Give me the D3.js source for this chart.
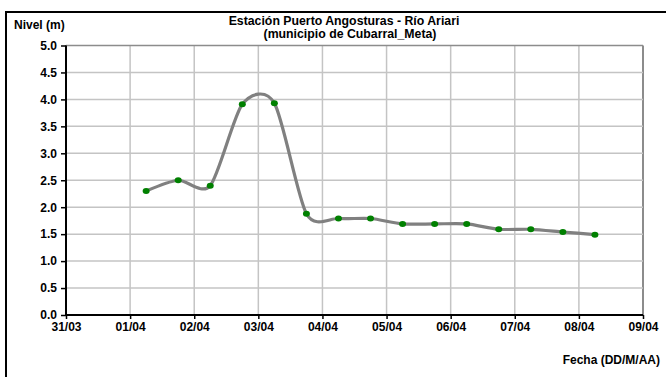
<!DOCTYPE html>
<html><head><meta charset="utf-8">
<script src="https://cdn.jsdelivr.net/npm/d3@7"></script>
<style>body{margin:0;background:#fff}svg{display:block}text{font-family:"Liberation Sans",Arial,sans-serif;font-weight:bold;fill:#000}</style>
</head><body><svg id="c" width="666" height="377"></svg>
<script>
const days = [1.25,1.75,2.25,2.75,3.25,3.75,4.25,4.75,5.25,5.75,6.25,6.75,7.25,7.75,8.25];
const nivel = [2.3,2.5,2.4,3.91,3.93,1.88,1.79,1.79,1.69,1.69,1.69,1.59,1.59,1.54,1.49];
const xTickLabels = ["31/03","01/04","02/04","03/04","04/04","05/04","06/04","07/04","08/04","09/04"];
const yTicks = [0,0.5,1,1.5,2,2.5,3,3.5,4,4.5,5];
const titleLines = ["Estación Puerto Angosturas - Río Ariari","(municipio de Cubarral_Meta)"];

const svg = d3.select("#c");
const L=66,R=643,T=45.5,B=315;
const x = d3.scaleLinear().domain([0,9]).range([L,R]);
const y = d3.scaleLinear().domain([0,5]).range([B,T]);

// outer frame
svg.append("path").attr("d",`M6,${700} V12 H${700}`).attr("fill","none").attr("stroke","#000").attr("stroke-width",2);

// grid
const g = svg.append("g");
g.selectAll(".vg").data(d3.range(1,10)).join("line")
 .attr("x1",d=>x(d)).attr("x2",d=>x(d)).attr("y1",T).attr("y2",B)
 .attr("stroke",d=>d===9?"#8c8c8c":"#c4c4c4").attr("stroke-width",d=>d===9?2:1.5);
g.selectAll(".hg").data(yTicks.filter(d=>d>0)).join("line")
 .attr("x1",L).attr("x2",R).attr("y1",d=>y(d)).attr("y2",d=>y(d))
 .attr("stroke",d=>d===5?"#8c8c8c":"#c4c4c4").attr("stroke-width",1.5);

// axes
const ya = svg.append("g").attr("transform",`translate(${L},0)`)
 .call(d3.axisLeft(y).tickValues(yTicks).tickFormat(d3.format(".1f")).tickSize(5).tickPadding(4));
const xa = svg.append("g").attr("transform",`translate(0,${B})`)
 .call(d3.axisBottom(x).tickValues(d3.range(0,10)).tickFormat(i=>xTickLabels[i]).tickSize(4).tickPadding(3));
[ya,xa].forEach(a=>{a.select(".domain").attr("stroke","#000").attr("stroke-width",2);
 a.selectAll(".tick line").attr("stroke","#000").attr("stroke-width",1.5);
 a.selectAll("text").attr("font-size",12).attr("font-weight","bold").attr("font-family","Liberation Sans, Arial");});
ya.select(".domain").attr("d",`M0,${B}V${T}`);
xa.select(".domain").attr("d",`M${L},0H${R}`);

// line
const pts = days.map((d,i)=>[d,nivel[i]]);
svg.append("path").attr("d",d3.line().x(d=>x(d[0])).y(d=>y(d[1])).curve(d3.curveCardinal.tension(0.2))(pts))
 .attr("fill","none").attr("stroke","#808080").attr("stroke-width",3.2).attr("stroke-linecap","round");
svg.selectAll(".pt").data(pts).join("ellipse")
 .attr("cx",d=>x(d[0])).attr("cy",d=>y(d[1])).attr("rx",3.5).attr("ry",3).attr("fill","#008000");

// texts
svg.append("text").attr("x",344).attr("y",25).attr("text-anchor","middle").attr("font-size",12.3).text(titleLines[0]);
svg.append("text").attr("x",350).attr("y",38).attr("text-anchor","middle").attr("font-size",12.3).text(titleLines[1]);
svg.append("text").attr("x",14).attr("y",29).attr("font-size",12).text("Nivel (m)");
svg.append("text").attr("x",660).attr("y",364).attr("text-anchor","end").attr("font-size",12).text("Fecha (DD/M/AA)");
</script></body></html>
